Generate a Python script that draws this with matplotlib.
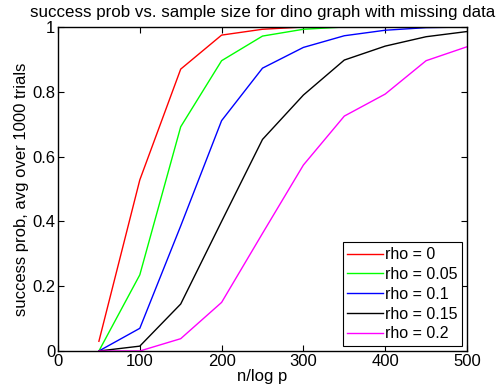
import matplotlib
matplotlib.use("Agg")
import matplotlib.pyplot as plt

plt.rcParams["font.family"] = ["Liberation Sans", "DejaVu Sans"]

n_over_logp = [50, 100, 150, 200, 250, 300, 350, 400, 450, 500]
rho_labels = ["rho = 0", "rho = 0.05", "rho = 0.1", "rho = 0.15", "rho = 0.2"]
rho0 = [0.03, 0.528, 0.87, 0.975, 0.993, 1.0, 1.0, 1.0, 1.0, 1.0]
rho005 = [0.0, 0.235, 0.692, 0.896, 0.972, 0.993, 1.0, 1.0, 1.0, 1.0]
rho01 = [0.0, 0.07, 0.386, 0.711, 0.873, 0.937, 0.973, 0.99, 0.998, 1.0]
rho015 = [0.0, 0.015, 0.145, 0.40, 0.653, 0.79, 0.898, 0.941, 0.97, 0.986]
rho02 = [0.0, 0.0, 0.038, 0.15, 0.363, 0.574, 0.725, 0.793, 0.896, 0.939]
colors = ["#ff0000", "#00ff00", "#0000ff", "#000000", "#ff00ff"]

fig = plt.figure(figsize=(4.97, 3.92), dpi=100)
ax = fig.add_axes([58 / 497, 1 - 351 / 392, 409 / 497, 324 / 392])

for series, label, color in zip([rho0, rho005, rho01, rho015, rho02], rho_labels, colors):
    ax.plot(n_over_logp, series, color=color, linewidth=1.0, label=label)

ax.set_xlim(0, 500)
ax.set_ylim(0, 1)
ax.set_xticks([0, 100, 200, 300, 400, 500])
ax.set_yticks([0, 0.2, 0.4, 0.6, 0.8, 1])
ax.set_yticklabels(["0", "0.2", "0.4", "0.6", "0.8", "1"])
ax.tick_params(direction="in", top=True, right=True, labelsize=12, length=4, width=0.8, pad=2)
for spine in ax.spines.values():
    spine.set_linewidth(1.0)

ax.set_title("success prob vs. sample size for dino graph with missing data", fontsize=12.2, pad=7)
ax.set_xlabel("n/log p", fontsize=12, labelpad=0)
ax.set_ylabel("success prob, avg over 1000 trials", fontsize=12, labelpad=2)

leg = ax.legend(loc="lower right", fontsize=11.5, fancybox=False, framealpha=1,
                edgecolor="black", handlelength=2.2, handletextpad=0.15,
                labelspacing=0.3, borderpad=0.3, borderaxespad=0.3)
leg.get_frame().set_linewidth(0.8)

fig.savefig("out.png", dpi=100)
